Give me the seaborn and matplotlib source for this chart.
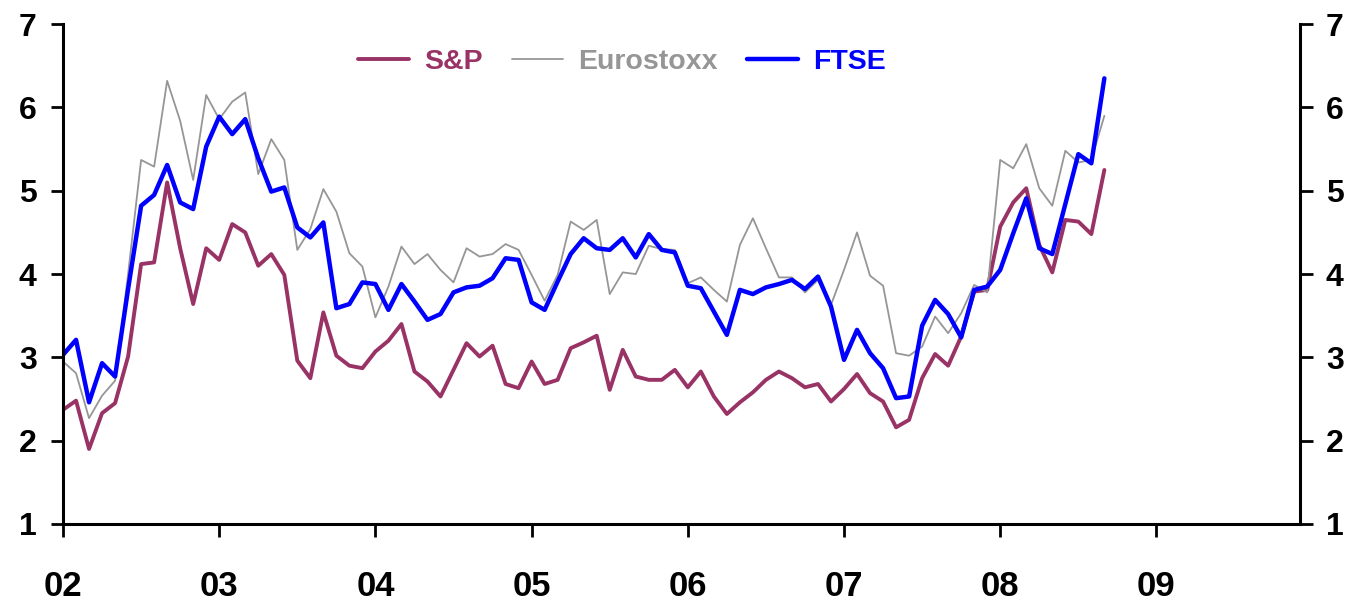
import numpy as np
import pandas as pd
import seaborn as sns
import matplotlib.pyplot as plt

# monthly data, Jan 2002 .. Sep 2008
sp500 = [2.37, 2.48, 1.90, 2.33, 2.45, 3.01, 4.12, 4.14, 5.10, 4.31, 3.64, 4.31,
         4.17, 4.60, 4.50, 4.10, 4.24, 3.99, 2.96, 2.75, 3.54, 3.02, 2.90, 2.87,
         3.07, 3.20, 3.40, 2.83, 2.71, 2.53, 2.85, 3.17, 3.01, 3.14, 2.68, 2.63,
         2.95, 2.68, 2.73, 3.11, 3.18, 3.26, 2.61, 3.09, 2.77, 2.73, 2.73, 2.85,
         2.64, 2.83, 2.53, 2.32, 2.46, 2.58, 2.73, 2.83, 2.75, 2.64, 2.68, 2.47,
         2.62, 2.80, 2.57, 2.47, 2.16, 2.25, 2.75, 3.04, 2.90, 3.25, 3.79, 3.81,
         4.57, 4.86, 5.03, 4.35, 4.02, 4.65, 4.63, 4.48, 5.25]

eurostoxx = [2.95, 2.81, 2.27, 2.54, 2.72, 4.00, 5.37, 5.29, 6.32, 5.84, 5.13, 6.15,
             5.86, 6.07, 6.18, 5.20, 5.62, 5.37, 4.29, 4.54, 5.02, 4.75, 4.25, 4.09,
             3.48, 3.85, 4.33, 4.12, 4.24, 4.05, 3.90, 4.31, 4.21, 4.24, 4.36, 4.29,
             3.99, 3.68, 3.99, 4.63, 4.53, 4.65, 3.76, 4.02, 4.00, 4.34, 4.30, 4.29,
             3.89, 3.96, 3.81, 3.67, 4.35, 4.67, 4.31, 3.96, 3.96, 3.78, 3.93, 3.63,
             4.05, 4.50, 3.98, 3.86, 3.05, 3.02, 3.13, 3.49, 3.29, 3.53, 3.87, 3.78,
             5.37, 5.27, 5.56, 5.03, 4.82, 5.48, 5.34, 5.37, 5.90]

ftse = [3.03, 3.21, 2.46, 2.93, 2.77, 3.82, 4.82, 4.95, 5.31, 4.86, 4.78, 5.53,
        5.89, 5.68, 5.86, 5.39, 4.99, 5.04, 4.56, 4.44, 4.62, 3.59, 3.64, 3.90,
        3.88, 3.57, 3.88, 3.67, 3.45, 3.52, 3.78, 3.84, 3.86, 3.95, 4.19, 4.17,
        3.66, 3.57, 3.91, 4.24, 4.43, 4.31, 4.29, 4.43, 4.20, 4.48, 4.29, 4.26,
        3.86, 3.83, 3.55, 3.27, 3.81, 3.76, 3.84, 3.88, 3.93, 3.82, 3.97, 3.61,
        2.97, 3.33, 3.05, 2.87, 2.51, 2.53, 3.38, 3.69, 3.52, 3.24, 3.81, 3.85,
        4.05, 4.49, 4.91, 4.31, 4.24, 4.84, 5.44, 5.33, 6.35]

year_labels = ["02", "03", "04", "05", "06", "07", "08", "09"]
y_ticks = [1, 2, 3, 4, 5, 6, 7]

series_names = ["S&P", "Eurostoxx", "FTSE"]
series_colors = ["#993366", "#969696", "#0000FF"]
series_widths = [2.8, 1.3, 3.2]

month = np.arange(len(sp500))
df = pd.DataFrame({"month": month, "S&P": sp500, "Eurostoxx": eurostoxx, "FTSE": ftse})
df_long = df.melt(id_vars="month", var_name="serie", value_name="valor")

sns.set_style("ticks")
plt.rcParams["font.family"] = ["Liberation Sans", "DejaVu Sans"]

fig = plt.figure(figsize=(13.58, 6.05), dpi=100)
ax = fig.add_axes([0.0464, 0.134, 0.957 - 0.0464, 0.960 - 0.134])

for nome, cor, lw in zip(series_names, series_colors, series_widths):
    sns.lineplot(data=df_long[df_long["serie"] == nome], x="month", y="valor",
                 color=cor, linewidth=lw, label=nome, ax=ax)

ax.set_xlim(0, 95)
ax.set_ylim(1, 7)
ax.set_xticks(np.arange(len(year_labels)) * 12)
ax.set_xticklabels(year_labels, fontsize=25, fontweight="bold")
ax.set_yticks(y_ticks)
ax.set_yticklabels([str(v) for v in y_ticks], fontsize=23, fontweight="bold")
ax.set_xlabel("")
ax.set_ylabel("")

ax.tick_params(axis="y", which="both", direction="out", length=9, width=2,
               right=True, labelright=True, left=True, labelleft=True, pad=10,
               colors="black")
ax.tick_params(axis="x", direction="out", length=9, width=2, pad=24, colors="black")

for lado in ["left", "right", "bottom"]:
    ax.spines[lado].set_visible(True)
    ax.spines[lado].set_linewidth(2.2)
    ax.spines[lado].set_color("black")
ax.spines["top"].set_visible(False)

leg = ax.legend(loc="center", bbox_to_anchor=(0.452, 0.925), ncol=3, frameon=False,
                prop={"size": 20.5, "weight": "bold"}, handlelength=1.8,
                handletextpad=0.55, columnspacing=1.0)
for txt, cor in zip(leg.get_texts(), series_colors):
    txt.set_color(cor)

plt.savefig("out.png", dpi=100)
